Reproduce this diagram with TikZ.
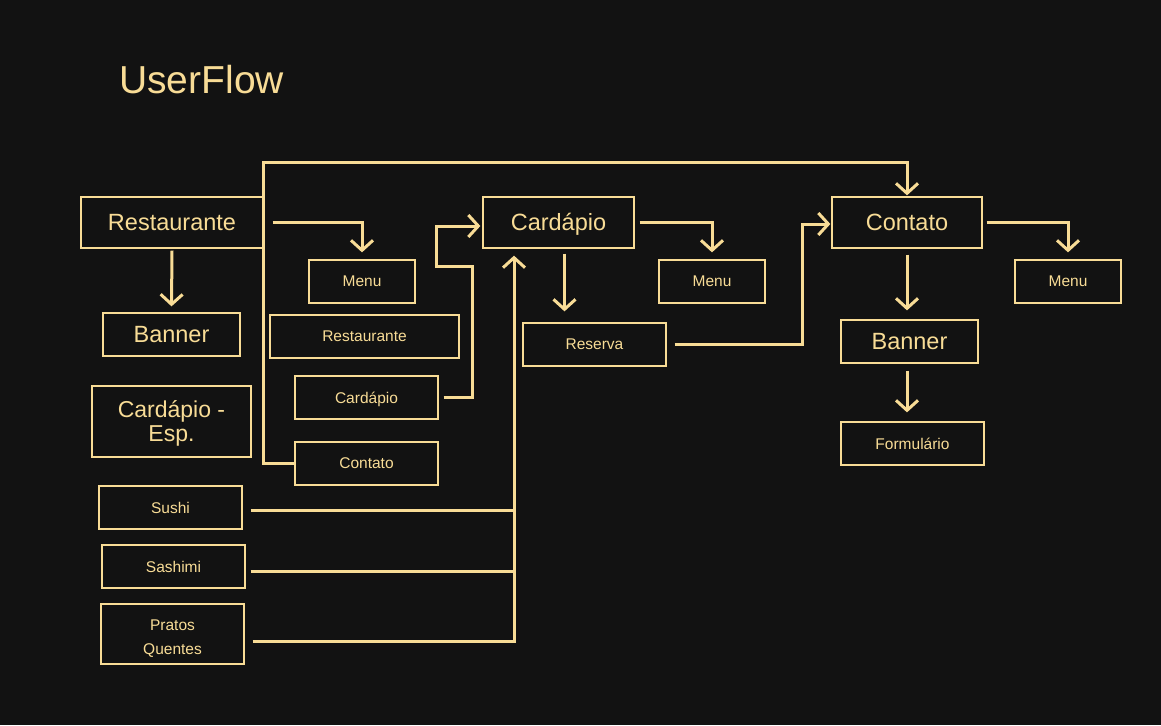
\documentclass[tikz,border=0pt]{standalone}
\usepackage{fontspec}
\setmainfont{Liberation Sans}
\usetikzlibrary{arrows.meta}
\definecolor{bg}{HTML}{121212}
\definecolor{gold}{HTML}{F8DC96}
\tikzset{
  box/.style={draw=gold, line width=1.3pt, text=gold, inner sep=0pt, align=center},
  bigtxt/.style={font=\fontsize{23.5}{26}\selectfont},
  smalltxt/.style={font=\fontsize{15.5}{24}\selectfont},
  conn/.style={draw=gold, line width=3pt},
  arr/.style={conn, -{Straight Barb[length=10pt,width=22pt]}}
}
\begin{document}
\begin{tikzpicture}[x=1pt,y=-1pt]
\useasboundingbox (0,0) rectangle (1161,725);
\fill[bg] (0,0) rectangle (1161,725);
\node[text=gold, anchor=west, inner sep=0pt, font=\fontsize{39}{42}\selectfont] (title) at (119,80) {UserFlow};

% left column
\node[box,bigtxt,minimum width=182pt,minimum height=51pt] (rest) at (172,222.5) {Restaurante};
\node[box,bigtxt,minimum width=137pt,minimum height=43pt] (bannerL) at (171.5,334.5) {Banner};
\node[box,font=\fontsize{23}{24}\selectfont,minimum width=159pt,minimum height=71pt] (cesp) at (171.5,421.5) {\rule{0pt}{21pt}Card\smash{á}pio -\\Esp.};
\node[box,smalltxt,minimum width=143pt,minimum height=43pt] (sushi) at (170.5,507.5) {Sushi};
\node[box,font=\fontsize{15.5}{24}\selectfont,minimum width=143pt,minimum height=60pt] (pratos) at (172.5,634) {\rule{0pt}{20pt}Pratos\\Quentes};
\node[box,smalltxt,minimum width=143pt,minimum height=43pt] (sashimi) at (173.5,566.5) {Sashimi};

% menu column
\node[box,smalltxt,minimum width=106pt,minimum height=43pt] (menu1) at (362,281.5) {Menu};
\node[box,smalltxt,minimum width=189pt,minimum height=43pt] (rests) at (364.5,336.5) {Restaurante};
\node[box,smalltxt,minimum width=143pt,minimum height=43pt] (cards) at (366.5,397.5) {Card\smash{á}\smash{p}io};
\node[box,smalltxt,minimum width=143pt,minimum height=43pt] (conts) at (366.5,463.5) {Contato};

% cardapio column
\node[box,bigtxt,minimum width=151pt,minimum height=51pt] (card) at (558.5,222.5) {Card\smash{á}\smash{p}io};
\node[box,smalltxt,minimum width=106pt,minimum height=43pt] (menu2) at (712,281.5) {Menu};
\node[box,smalltxt,minimum width=143pt,minimum height=43pt] (reserva) at (594.5,344.5) {Reserva};

% contato column
\node[box,bigtxt,minimum width=150pt,minimum height=51pt] (cont) at (907,222.5) {Contato};
\node[box,smalltxt,minimum width=106pt,minimum height=43pt] (menu3) at (1068,281.5) {Menu};
\node[box,bigtxt,minimum width=137pt,minimum height=43pt] (bannerR) at (909.5,341.5) {Banner};
\node[box,smalltxt,minimum width=143pt,minimum height=43pt] (form) at (912.5,443.5) {Formul\smash{á}rio};

% connectors
\draw[arr] (rest.south) ++(0,2) -- ([yshift=6pt]bannerL.north);
\draw[arr] ([xshift=9pt]rest.east) -| ([yshift=7pt]menu1.north);
\draw[arr] (conts.west) -| (263,162) -| ([yshift=1pt]cont.north);
\draw[arr] ([xshift=5pt]cards.east) -| (472,266) -| (436,226) -- ([xshift=-2pt,yshift=-3.5pt]card.west);
\draw[arr] ([xshift=5pt]card.east) -| ([yshift=7pt]menu2.north);
\draw[arr] ([xshift=6pt]card.south) ++(0,5) -- ([xshift=-30pt,yshift=11pt]reserva.north);
\draw[conn] ([xshift=8pt,yshift=-2.5pt]sushi.east) -- (514,510);
\draw[conn] ([xshift=5pt,yshift=-4.5pt]sashimi.east) -- (514,571);
\draw[conn] ([xshift=8pt,yshift=-7pt]pratos.east) -- (514,641);
\draw[arr] (514,642.5) -- ([xshift=-44.5pt,yshift=-7pt]card.south);
\draw[arr] ([xshift=8pt]reserva.east) -| (802,224) -- ([xshift=-1pt,yshift=-1.5pt]cont.west);
\draw[arr] ([xshift=4pt]cont.east) -| ([yshift=7pt]menu3.north);
\draw[arr] (cont.south) ++(0,6) -- ([xshift=-2.5pt,yshift=9pt]bannerR.north);
\draw[arr] ([xshift=-2.5pt]bannerR.south) ++(0,7) -- ([xshift=-5.5pt,yshift=9pt]form.north);
\end{tikzpicture}
\end{document}
